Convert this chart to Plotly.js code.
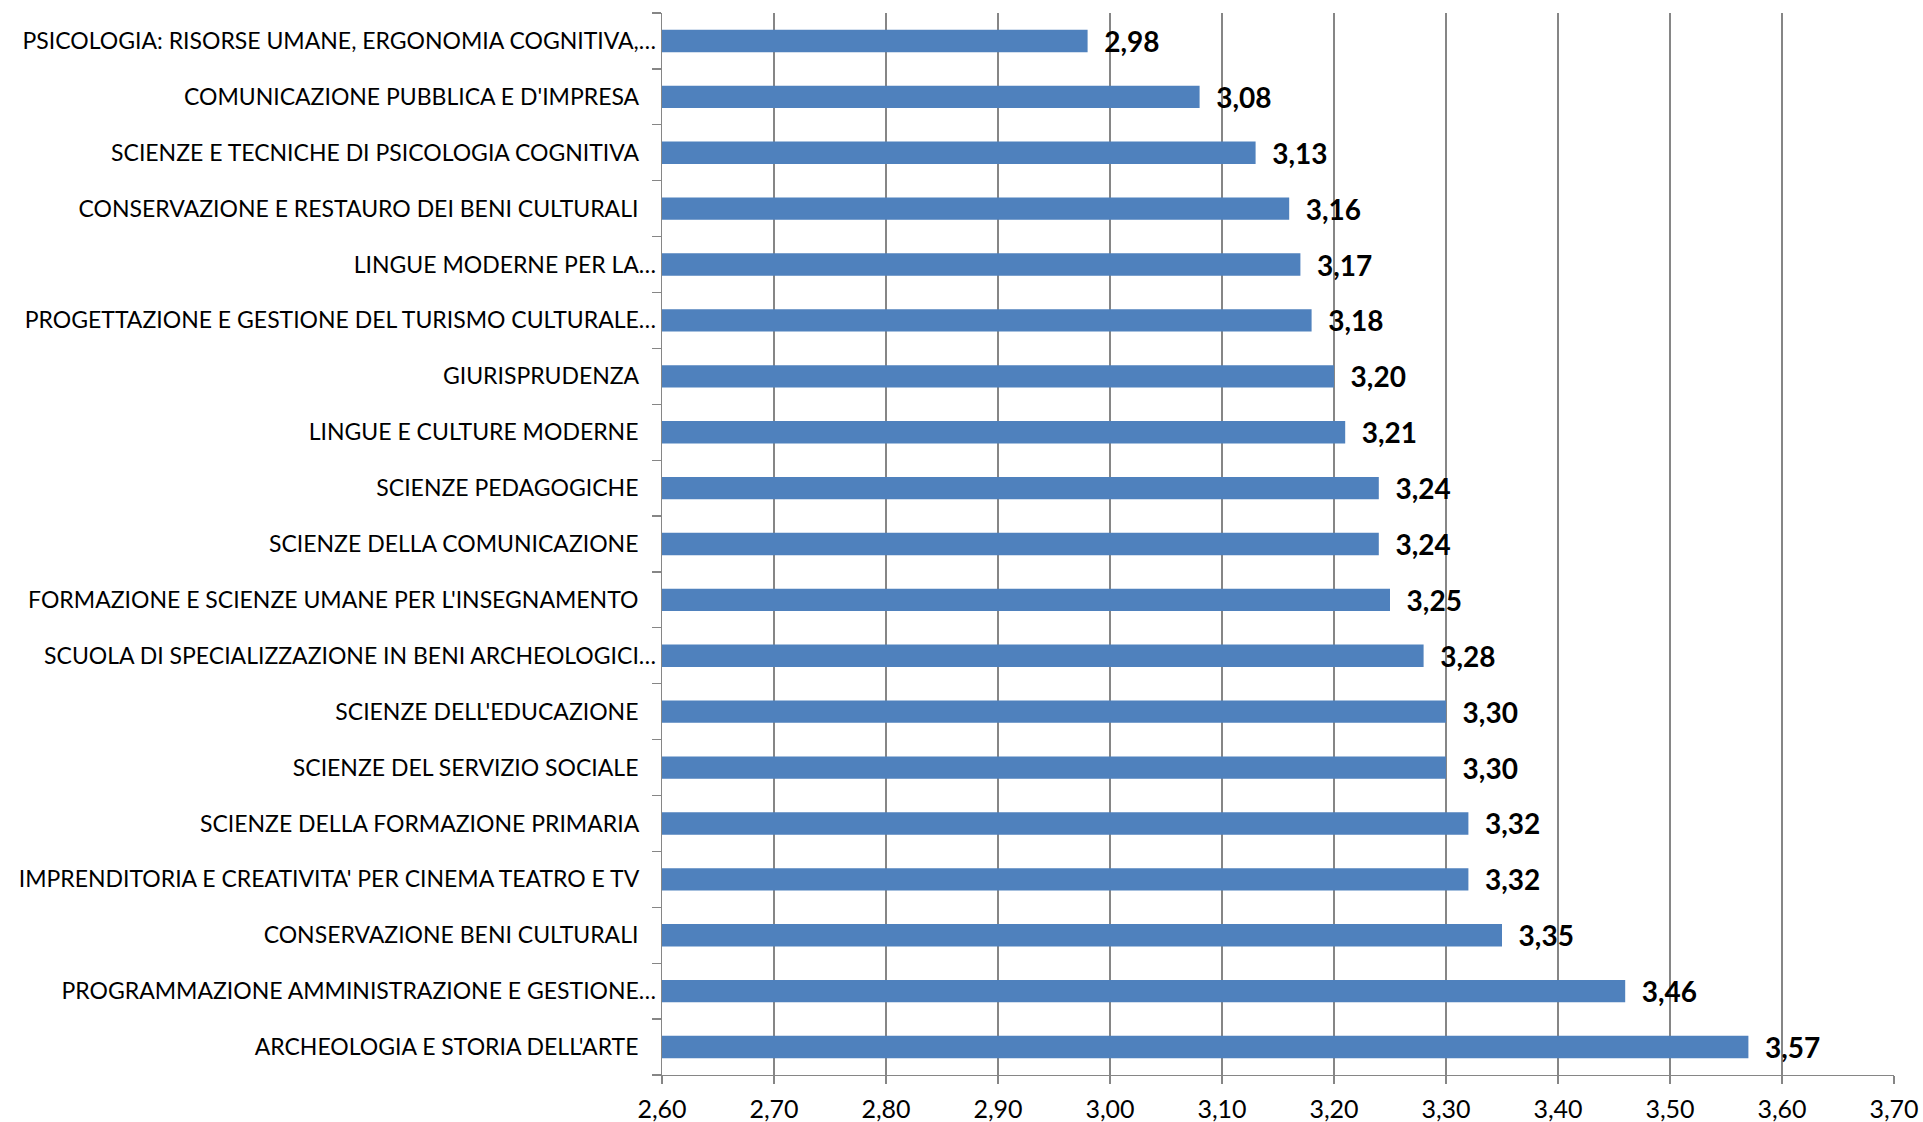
<!DOCTYPE html>
<html>
<head>
<meta charset="utf-8">
<script src="https://cdn.plot.ly/plotly-3.0.1.min.js"></script>
<style>html,body{margin:0;padding:0;background:#fff;}#chart{width:1923px;height:1122px;}</style>
</head>
<body>
<div id="chart"></div>
<script>
const categories = [
  "PSICOLOGIA: RISORSE UMANE, ERGONOMIA COGNITIVA,…",
  "COMUNICAZIONE PUBBLICA E D'IMPRESA",
  "SCIENZE E TECNICHE DI PSICOLOGIA COGNITIVA",
  "CONSERVAZIONE E RESTAURO DEI BENI CULTURALI",
  "LINGUE MODERNE PER LA…",
  "PROGETTAZIONE E GESTIONE DEL TURISMO CULTURALE…",
  "GIURISPRUDENZA",
  "LINGUE E CULTURE MODERNE",
  "SCIENZE PEDAGOGICHE",
  "SCIENZE DELLA COMUNICAZIONE",
  "FORMAZIONE E SCIENZE UMANE PER L'INSEGNAMENTO",
  "SCUOLA DI SPECIALIZZAZIONE IN BENI ARCHEOLOGICI…",
  "SCIENZE DELL'EDUCAZIONE",
  "SCIENZE DEL SERVIZIO SOCIALE",
  "SCIENZE DELLA FORMAZIONE PRIMARIA",
  "IMPRENDITORIA E CREATIVITA' PER CINEMA TEATRO E TV",
  "CONSERVAZIONE BENI CULTURALI",
  "PROGRAMMAZIONE AMMINISTRAZIONE E GESTIONE…",
  "ARCHEOLOGIA E STORIA DELL'ARTE"
];
const values = [2.98, 3.08, 3.13, 3.16, 3.17, 3.18, 3.20, 3.21, 3.24, 3.24, 3.25, 3.28, 3.30, 3.30, 3.32, 3.32, 3.35, 3.46, 3.57];
const xTickValues = [2.6, 2.7, 2.8, 2.9, 3.0, 3.1, 3.2, 3.3, 3.4, 3.5, 3.6, 3.7];

const ids = categories.map((c, i) => "c" + i);
const labels = categories.map(c => c.endsWith("…") ? c : c + "\u00A0\u00A0\u00A0");

const trace = {
  type: "bar",
  orientation: "h",
  x: values,
  y: ids,
  marker: {color: "#4F81BD"},
  texttemplate: "\u00A0\u00A0%{x:.2f}",
  textposition: "outside",
  constraintext: "none",
  textfont: {family: "Lato, 'Open Sans', sans-serif", size: 28, color: "#000000", weight: "bold"},
  cliponaxis: false,
  hoverinfo: "none"
};

const layout = {
  width: 1923,
  height: 1122,
  separators: ",.",
  margin: {l: 662, r: 29, t: 13, b: 47, pad: 0},
  paper_bgcolor: "#ffffff",
  plot_bgcolor: "#ffffff",
  showlegend: false,
  bargap: 0.6,
  font: {family: "Lato, 'Open Sans', sans-serif", color: "#000000"},
  xaxis: {
    range: [2.6, 3.7],
    tickvals: xTickValues,
    tickformat: ".2f",
    showgrid: true,
    gridcolor: "#868686",
    gridwidth: 1.3,
    zeroline: false,
    showline: true,
    linecolor: "#868686",
    linewidth: 1.3,
    ticks: "outside",
    ticklen: 8,
    tickwidth: 1.3,
    tickcolor: "#868686",
    tickfont: {size: 25, color: "#000000"},
    ticklabelstandoff: 4,
    fixedrange: true
  },
  yaxis: {
    type: "category",
    autorange: "reversed",
    tickvals: ids,
    ticktext: labels,
    tickson: "boundaries",
    ticks: "outside",
    ticklen: 9,
    tickwidth: 1.3,
    tickcolor: "#868686",
    showgrid: false,
    showline: true,
    linecolor: "#868686",
    linewidth: 1.3,
    tickfont: {size: 23, color: "#000000"},
    fixedrange: true
  }
};

Plotly.newPlot("chart", [trace], layout, {displayModeBar: false, staticPlot: true});
</script>
</body>
</html>
